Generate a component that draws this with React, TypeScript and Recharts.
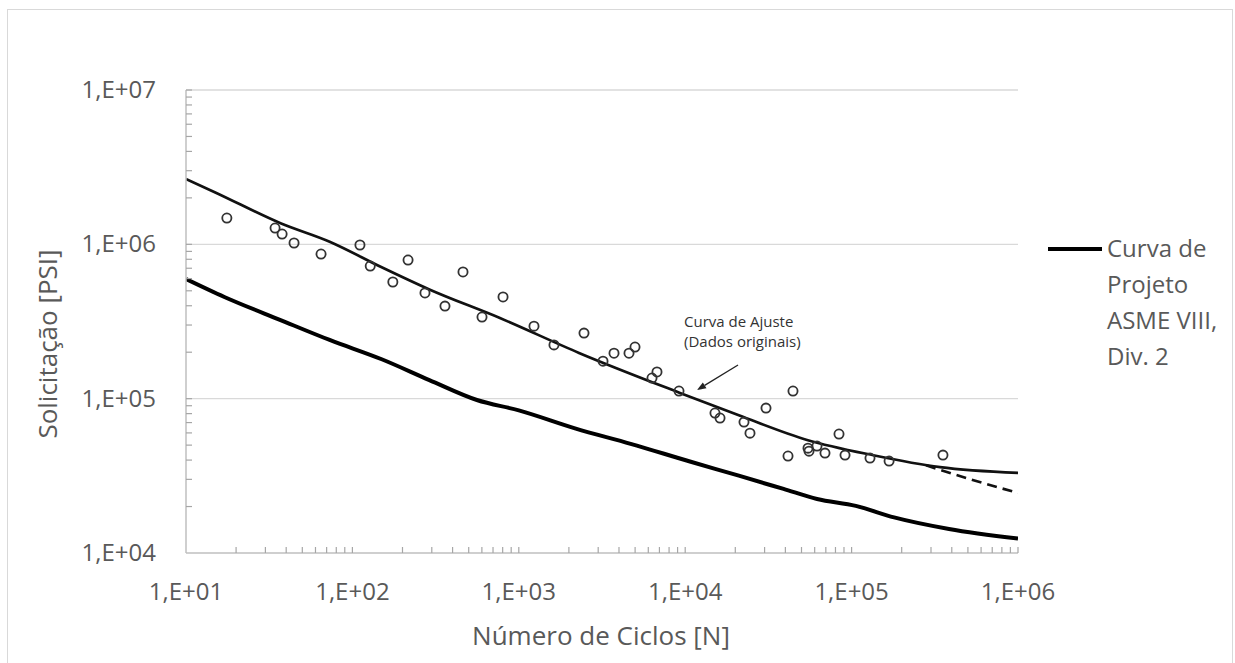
import { ComposedChart, Line, ReferenceLine, Scatter, XAxis, YAxis } from 'recharts'

// axis decades (log scale)
const xDecades = [10, 100, 1000, 10000, 100000, 1000000]
const yDecades = [10000, 100000, 1000000, 10000000]
const minorSteps = [1, 2, 3, 4, 5, 6, 7, 8, 9]

// test data (cycles, stress in psi)
const testN = [
  17.6, 34.3, 37.8, 44.6, 64.8, 111, 128, 175, 216, 273, 360, 462, 601, 804, 1234, 1627, 2465,
  3206, 3734, 4595, 4993, 6317, 6768, 9177, 15100, 16190, 22560, 24510, 30590, 44440, 41480,
  54700, 55460, 61950, 69200, 84000, 91300, 129000, 168000, 354000,
]
const testS = [
  1480000, 1275000, 1166000, 1020000, 865000, 990000, 723000, 570000, 791000, 484000, 398000,
  662000, 338000, 456000, 295000, 223000, 266000, 175000, 197000, 197000, 216000, 136000, 149000,
  112000, 80700, 74900, 70500, 59800, 86900, 112000, 42500, 47800, 45700, 49300, 44400, 59000,
  43100, 41200, 39400, 43100,
]

// fitted curve (original data)
const fitN = [10, 15, 37, 73, 150, 290, 770, 2300, 9300, 21000, 54000, 135000, 340000, 1000000]
const fitS = [
  2650000, 2170000, 1370000, 1040000, 710000, 510000, 333000, 198000, 109000, 78000, 54000, 43000,
  36000, 33000,
]
const fitDashN = [280000, 520000, 1000000]
const fitDashS = [37000, 30000, 24500]

// ASME VIII Div. 2 design curve
const designN = [
  10, 17, 37, 73, 150, 290, 560, 1000, 2200, 4700, 10800, 21000, 39000, 62000, 106000, 180000,
  385000, 1000000,
]
const designS = [
  596000, 456000, 323000, 240000, 180000, 132000, 98000, 84000, 64000, 51000, 39000, 31700, 26000,
  22400, 20200, 17000, 14300, 12400,
]

const zip = (n: number[], s: number[]) => n.map((v, i) => ({ n: v, s: s[i] }))
const testPoints = zip(testN, testS)
const fitData = zip(fitN, fitS)
const fitDashData = zip(fitDashN, fitDashS)
const designData = zip(designN, designS)

const spread = (decades: number[]) =>
  decades
    .slice(0, -1)
    .flatMap((d) => minorSteps.map((m) => m * d))
    .concat(decades[decades.length - 1])

const xTicks = spread(xDecades)
const yTicks = spread(yDecades)

const isDecade = (v: number) => Math.abs(Math.log10(v) - Math.round(Math.log10(v))) < 1e-9
const fmt = (v: number) => `1,E+${String(Math.round(Math.log10(v))).padStart(2, '0')}`

const font = '"Open Sans", sans-serif'
const textGray = '#595959'
const axisGray = '#bfbfbf'
const tickGray = '#a6a6a6'

const XTick = (props: any) => {
  const { x, y, payload } = props
  const v = payload.value
  return (
    <g>
      {v !== xDecades[0] && <line x1={x} x2={x} y1={y} y2={y - 6} stroke={tickGray} strokeWidth={1.2} />}
      {isDecade(v) && (
        <text x={x} y={y + 47} textAnchor="middle" fontSize={24} fill={textGray} fontFamily={font}>
          {fmt(v)}
        </text>
      )}
    </g>
  )
}

const YTick = (props: any) => {
  const { x, y, payload } = props
  const v = payload.value
  return (
    <g>
      {v !== yDecades[0] && <line x1={x} x2={x + 6} y1={y} y2={y} stroke={tickGray} strokeWidth={1.2} />}
      {isDecade(v) && (
        <text x={x - 30} y={y + 8} textAnchor="end" fontSize={24} fill={textGray} fontFamily={font}>
          {fmt(v)}
        </text>
      )}
    </g>
  )
}

const Arrow = (props: any) => {
  const { x1, y1, x2, y2 } = props
  const dx = x2 - x1
  const dy = y2 - y1
  const len = Math.hypot(dx, dy) || 1
  const ux = dx / len
  const uy = dy / len
  const bx = x2 - ux * 9
  const by = y2 - uy * 9
  return (
    <g>
      <line x1={x1} y1={y1} x2={bx} y2={by} stroke="#222" strokeWidth={1.3} />
      <polygon
        points={`${x2},${y2} ${bx - uy * 3.5},${by + ux * 3.5} ${bx + uy * 3.5},${by - ux * 3.5}`}
        fill="#222"
      />
    </g>
  )
}

export default function App() {
  return (
    <div
      style={{
        position: 'absolute',
        left: 0,
        top: 0,
        width: 1235,
        height: 663,
        background: '#fff',
        overflow: 'hidden',
        fontFamily: font,
      }}
    >
      <ComposedChart width={1235} height={663} margin={{ top: 90, right: 217, bottom: 0, left: 0 }}>
        <XAxis
          dataKey="n"
          type="number"
          scale="log"
          domain={[10, 1000000]}
          allowDataOverflow
          ticks={xTicks}
          interval={0}
          height={110}
          tickSize={0}
          tickMargin={0}
          tickLine={false}
          axisLine={{ stroke: axisGray, strokeWidth: 1.5 }}
          tick={<XTick />}
          label={{
            content: () => (
              <text x={601} y={645} textAnchor="middle" fontSize={26} fill={textGray} fontFamily={font}>
                Número de Ciclos [N]
              </text>
            ),
          }}
        />
        <YAxis
          dataKey="s"
          type="number"
          scale="log"
          domain={[10000, 10000000]}
          allowDataOverflow
          ticks={yTicks}
          interval={0}
          width={186}
          tickSize={0}
          tickMargin={0}
          tickLine={false}
          axisLine={{ stroke: axisGray, strokeWidth: 1.5 }}
          tick={<YTick />}
          label={{
            content: () => (
              <text
                x={57}
                y={344}
                textAnchor="middle"
                fontSize={26}
                fill={textGray}
                fontFamily={font}
                transform="rotate(-90 57 344)"
              >
                Solicitação [PSI]
              </text>
            ),
          }}
        />
        {yDecades.slice(1).map((v) => (
          <ReferenceLine key={v} y={v} stroke="#d9d9d9" strokeWidth={1.3} />
        ))}
        <ReferenceLine
          segment={[
            { x: 20770, y: 165200 },
            { x: 11770, y: 113700 },
          ]}
          shape={<Arrow />}
        />
        <Line
          data={designData}
          dataKey="s"
          type="monotone"
          stroke="#000"
          strokeWidth={4}
          dot={false}
          isAnimationActive={false}
        />
        <Line
          data={fitData}
          dataKey="s"
          type="monotone"
          stroke="#111"
          strokeWidth={2.7}
          dot={false}
          isAnimationActive={false}
        />
        <Line
          data={fitDashData}
          dataKey="s"
          type="monotone"
          stroke="#111"
          strokeWidth={2.7}
          strokeDasharray="10 6"
          dot={false}
          isAnimationActive={false}
        />
        <Scatter
          data={testPoints}
          isAnimationActive={false}
          shape={(p: any) => <circle cx={p.cx} cy={p.cy} r={4.6} fill="none" stroke="#333" strokeWidth={1.8} />}
        />
      </ComposedChart>

      <div
        style={{
          position: 'absolute',
          left: 684,
          top: 311,
          fontSize: 15,
          lineHeight: '20px',
          color: '#333',
          whiteSpace: 'nowrap',
        }}
      >
        Curva de Ajuste
        <br />
        (Dados originais)
      </div>

      <div style={{ position: 'absolute', left: 1048, top: 247, width: 54, height: 4, background: '#000' }} />
      <div
        style={{
          position: 'absolute',
          left: 1107,
          top: 230,
          fontSize: 24,
          lineHeight: '36px',
          color: textGray,
          whiteSpace: 'nowrap',
        }}
      >
        Curva de
        <br />
        Projeto
        <br />
        ASME VIII,
        <br />
        Div. 2
      </div>

      <div
        style={{
          position: 'absolute',
          left: 7,
          top: 9,
          width: 1224,
          height: 700,
          border: '1px solid #d9d9d9',
          pointerEvents: 'none',
        }}
      />
    </div>
  )
}
